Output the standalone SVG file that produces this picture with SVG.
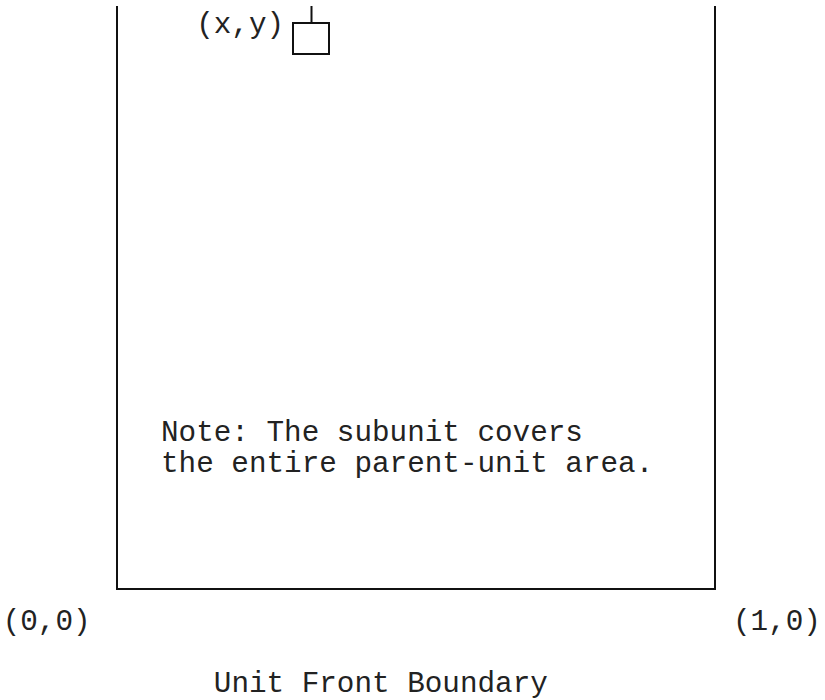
<svg xmlns="http://www.w3.org/2000/svg" width="825" height="700" viewBox="0 0 825 700">
  <style>
    .t { font-family: "Liberation Mono", "Courier New", monospace; font-size: 29.3px; fill: #222; }
    .ln { stroke: #111; stroke-width: 2; fill: none; stroke-linecap: square; }
  </style>
  <rect x="0" y="0" width="825" height="700" fill="#fff"/>
  <g id="unit-area">
    <path class="ln" d="M117,7 V589 H715 V7"/>
  </g>
  <g id="subunit">
    <rect class="ln" x="293" y="23" width="36" height="31"/>
    <text class="t" x="196.2" y="33">(x,y)</text>
  </g>
  <g id="connectors">
    <line class="ln" x1="311.5" y1="7" x2="311.5" y2="23"/>
  </g>
  <g id="note">
    <text class="t" x="161" y="441">Note: The subunit covers</text>
    <text class="t" x="161" y="472">the entire parent-unit area.</text>
  </g>
  <g id="corner-left">
    <text class="t" x="2.7" y="630">(0,0)</text>
  </g>
  <g id="corner-right">
    <text class="t" x="733" y="630">(1,0)</text>
  </g>
  <g id="caption">
    <text class="t" x="213.8" y="692">Unit Front Boundary</text>
  </g>
</svg>
